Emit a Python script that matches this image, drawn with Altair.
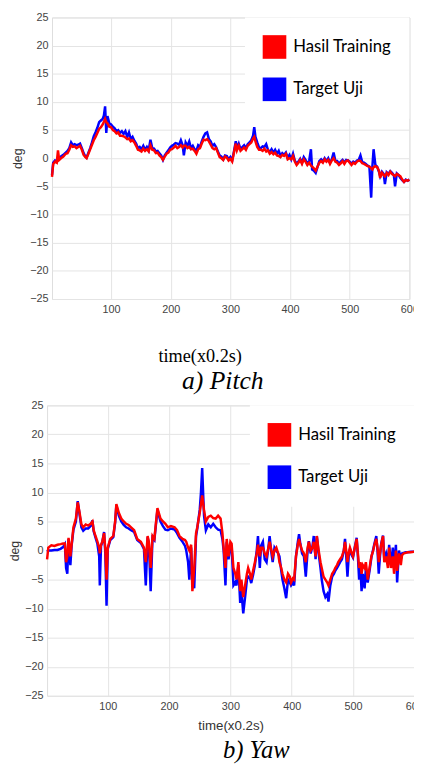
import altair as alt
import pandas as pd

# ---------------- data ----------------
series_names = ["Hasil Training", "Target Uji"]
series_colors = ["#ff0000", "#0000ff"]
x_ticks = [100, 200, 300, 400, 500, 600]
y_ticks = [-25, -20, -15, -10, -5, 0, 5, 10, 15, 20, 25]

pitch_t = [1, 3, 6, 9, 11, 13, 16, 20, 24, 27, 30, 33, 36, 39, 42, 45, 48, 51, 54, 57,
           59, 62, 65, 68, 71, 74, 77, 80, 83, 86, 88, 90, 92, 94, 97, 100, 103, 106, 109, 112,
           115, 118, 121, 124, 127, 130, 133, 136, 139, 142, 145, 148, 151, 154, 157, 160, 163, 166, 169, 172,
           175, 178, 181, 184, 187, 190, 193, 196, 199, 202, 205, 208, 211, 214, 217, 220, 222, 225, 228, 231,
           234, 237, 240, 243, 246, 249, 252, 255, 258, 261, 264, 267, 270, 273, 276, 279, 282, 285, 288, 291,
           294, 297, 300, 303, 306, 309, 311, 314, 317, 320, 323, 326, 329, 332, 335, 338, 340, 342, 345, 348,
           351, 354, 357, 360, 363, 366, 369, 372, 375, 378, 381, 384, 387, 390, 393, 396, 399, 402, 405, 408,
           411, 414, 417, 420, 423, 426, 429, 432, 435, 437, 440, 443, 446, 449, 452, 455, 458, 461, 464, 467,
           470, 473, 476, 479, 482, 485, 488, 491, 494, 497, 500, 503, 506, 509, 512, 515, 518, 521, 524, 527,
           530, 533, 536, 538, 540, 543, 546, 549, 551, 554, 557, 559, 562, 565, 568, 571, 574, 576, 579, 582,
           585, 588, 591, 594, 597, 600]
pitch_train = [-3.3, -1.0, -0.6, -0.8, 1.4, -0.3, 0.0, 0.3, 0.8, 0.9, 1.5, 2.3, 2.0, 2.1, 1.8, 2.0, 2.2, 1.5, 0.6, 0.2,
               0.0, 0.8, 1.6, 2.4, 3.2, 3.8, 4.5, 5.2, 5.5, 6.0, 6.5, 7.0, 6.4, 6.2, 5.6, 5.5, 5.0, 4.8, 4.4, 4.6,
               4.0, 4.0, 3.9, 3.7, 3.4, 3.5, 3.0, 3.2, 2.8, 2.2, 1.5, 1.4, 1.2, 1.7, 1.3, 1.6, 1.2, 2.3, 1.5, 1.4,
               0.9, 1.0, 0.5, 0.2, -0.3, 0.3, 0.8, 1.0, 1.5, 1.6, 1.9, 2.2, 1.8, 2.0, 2.3, 1.9, 2.2, 2.2, 1.8, 2.0,
               1.6, 1.7, 1.3, 0.8, 1.6, 1.8, 2.6, 3.3, 3.2, 3.4, 3.0, 2.4, 1.8, 1.6, 1.8, 1.0, 0.2, 0.0, -0.3, 0.3,
               0.1, -0.4, -0.1, -0.6, 1.0, 2.6, 1.4, 2.2, 1.3, 1.6, 1.9, 1.5, 2.2, 2.5, 2.8, 3.5, 3.8, 3.0, 2.0, 1.5,
               1.5, 1.3, 1.7, 1.2, 1.4, 0.8, 1.1, 0.7, 1.0, 0.5, 0.4, 0.2, 0.6, 0.4, 0.8, -0.2, 0.0, -0.2, 0.4, -0.6,
               -1.2, -0.8, -0.3, -1.0, -0.2, -0.6, -1.2, -0.8, -1.3, -1.5, -1.8, -2.2, -1.5, -0.8, -0.5, -0.8, -0.2, -0.6, -0.3, -1.0,
               -0.4, 0.0, -0.6, -0.8, -1.2, -0.9, -0.5, -1.0, -0.5, -0.4, -0.8, -1.2, -0.8, -1.0, -0.6, -0.4, -0.5, -0.9, -1.0, -1.2,
               -1.4, -1.5, -1.8, -2.0, -1.6, -1.4, -1.6, -2.2, -3.5, -2.6, -3.0, -3.2, -2.6, -3.0, -2.4, -2.8, -3.0, -3.2, -2.8, -3.0,
               -3.2, -3.8, -4.2, -3.9, -4.0, -3.8]
pitch_target = [-3.0, -0.8, -0.4, -0.5, 0.2, 0.0, 0.3, 0.6, 1.0, 1.3, 1.8, 2.8, 2.3, 2.5, 2.3, 2.4, 2.6, 1.8, 0.9, 0.3,
                0.1, 1.0, 1.8, 2.8, 3.9, 4.6, 5.4, 6.4, 6.7, 7.0, 7.6, 9.2, 4.5, 7.5, 6.2, 6.0, 5.6, 5.3, 4.8, 5.0,
                4.5, 4.8, 4.3, 4.8, 3.8, 4.6, 3.4, 3.8, 3.1, 2.6, 1.8, 2.0, 1.6, 2.2, 1.5, 2.0, 1.4, 3.3, 1.8, 1.7,
                1.2, 1.3, 0.9, 0.5, -0.3, 0.5, 1.0, 1.4, 1.9, 2.2, 2.4, 2.7, 2.6, 2.4, 3.2, 2.3, 0.5, 2.8, 2.2, 3.0,
                1.8, 2.2, 1.6, 1.3, 2.3, 2.0, 3.0, 3.8, 4.4, 4.6, 3.4, 3.0, 2.2, 2.5, 2.0, 1.2, 0.5, 0.3, -0.2, 0.5,
                0.4, -0.2, 0.2, -0.4, 1.2, 3.0, 1.8, 2.6, 1.6, 2.0, 2.3, 1.8, 2.5, 2.8, 3.2, 4.0, 5.5, 3.8, 2.8, 1.9,
                1.8, 2.1, 2.0, 2.5, 1.5, 1.1, 1.6, 1.0, 1.5, 0.8, 1.3, 0.4, 0.9, 0.6, 1.0, 0.1, 0.6, -0.2, 0.8, -0.4,
                -1.0, -0.6, -0.1, -0.8, 0.2, -0.3, -1.0, -0.5, 1.6, -2.0, -2.2, -2.6, -1.6, -0.5, -0.2, -0.6, 0.0, -0.5, 0.0, -0.8,
                -0.2, 1.0, -0.5, -0.5, -1.0, -0.6, -0.3, -0.8, -0.3, -0.4, -0.6, -1.0, -0.6, -0.8, -0.4, -0.3, 0.5, -0.7, -0.8, -1.0,
                -1.3, -1.5, -7.0, -1.5, 1.6, -1.2, -1.5, -2.4, -3.2, -2.4, -2.8, -4.6, -2.5, -2.8, -2.3, -2.6, -3.0, -5.0, -2.7, -3.0,
                -3.5, -3.9, -4.2, -3.8, -4.0, -3.8]

yaw_t = [1, 3, 8, 13, 18, 23, 27, 30, 32, 34, 36, 39, 41, 44, 48, 51, 54, 57, 60, 64,
         68, 72, 75, 77, 80, 83, 86, 87, 89, 91, 94, 96, 98, 100, 104, 109, 112, 114, 118, 122,
         126, 130, 134, 138, 143, 148, 154, 159, 162, 165, 167, 170, 173, 176, 181, 186, 190, 194, 198, 203,
         209, 213, 217, 222, 226, 228, 231, 233, 236, 238, 241, 244, 246, 250, 252, 254, 257, 260, 264, 268,
         272, 276, 280, 284, 287, 289, 292, 294, 297, 300, 302, 305, 308, 310, 313, 316, 318, 321, 324, 327,
         329, 332, 334, 337, 340, 343, 345, 348, 350, 353, 356, 359, 362, 364, 367, 369, 372, 375, 378, 380,
         383, 385, 388, 391, 394, 397, 399, 402, 404, 407, 410, 412, 414, 417, 420, 423, 426, 428, 431, 434,
         436, 439, 441, 444, 447, 449, 452, 455, 458, 460, 463, 466, 469, 471, 474, 476, 479, 482, 485, 487,
         489, 491, 493, 495, 498, 500, 503, 506, 508, 510, 512, 514, 516, 519, 521, 524, 527, 530, 533, 535,
         538, 540, 542, 544, 546, 549, 551, 554, 557, 559, 562, 565, 567, 570, 572, 575, 578, 580, 583, 586,
         589, 594, 600]
yaw_train = [-1.5, 0.5, 0.9, 0.8, 1.0, 1.1, 1.2, 1.2, -2.0, -1.0, 2.2, -1.0, 1.0, 4.0, 5.5, 8.3, 6.5, 4.5, 4.0, 4.5,
             4.3, 4.6, 5.0, 3.5, 2.5, 1.6, 0.5, -0.5, 1.0, 1.5, 3.0, 0.2, -5.0, 0.5, 2.0, 2.5, 5.0, 8.0, 6.5, 5.5,
             5.0, 4.6, 4.4, 4.0, 3.5, 2.0, 1.5, 0.5, -2.0, 2.5, 1.5, -3.0, 2.5, 2.0, 7.3, 5.5, 5.0, 4.6, 4.0, 4.2,
             4.0, 3.5, 2.5, 2.0, 1.8, 1.5, 0.5, 0.0, 1.0, -7.0, -3.0, 3.0, 4.0, 6.5, 8.0, 9.5, 7.0, 5.0, 5.8, 6.0,
             5.6, 5.5, 6.0, 5.5, 3.0, 0.5, -3.0, 2.0, -1.0, 1.5, 1.2, -3.0, -4.0, -5.0, -2.0, -7.0, -5.0, -8.0, -6.0, -4.0,
             -3.0, -4.0, -5.0, -3.5, -2.0, -0.5, 1.0, -1.0, 0.5, 0.5, -0.5, -1.0, 0.5, 1.5, 0.0, -1.0, 0.0, 0.5, -0.5, -2.0,
             -3.0, -4.0, -5.0, -5.5, -4.0, -4.5, -5.5, -4.8, -5.0, -1.0, 1.0, 2.0, 1.0, 0.0, -0.5, -2.0, 0.5, 1.5, 0.0, 0.5,
             1.5, -1.0, 2.5, 0.0, -2.0, -3.0, -4.5, -5.0, -5.5, -6.0, -5.0, -4.0, -3.5, -3.0, -2.5, -2.0, -1.5, -1.0, 0.0, 1.5,
             0.0, -2.0, -0.5, 0.5, -0.5, -1.0, 0.5, 2.0, -0.5, -3.0, -2.0, -4.0, -2.5, -3.0, -2.0, -5.0, -3.0, -1.0, 0.0, 1.0,
             2.0, 0.5, -2.0, -0.5, 1.0, 2.5, -2.0, -1.0, -3.0, 0.5, -3.0, -1.0, -4.0, 0.0, -3.5, -0.5, -2.5, -0.8, -0.5, -0.4,
             -0.3, -0.3, -0.2]
yaw_target = [-0.2, 0.0, 0.0, 0.1, 0.1, 0.3, 0.6, 1.1, -3.0, -4.0, 2.0, -2.5, 0.8, 3.6, 5.0, 8.5, 6.2, 4.0, 3.4, 3.8,
              3.8, 4.2, 5.2, 3.3, 2.2, 1.2, -1.0, -6.0, 0.8, 1.4, 3.2, -0.5, -9.5, 0.3, 1.8, 2.3, 4.8, 7.8, 6.0, 5.0,
              4.4, 4.0, 3.8, 3.5, 3.2, 1.8, 1.3, 0.3, -6.0, 2.3, 1.2, -7.0, 2.2, 1.8, 7.0, 5.0, 4.2, 3.6, 3.5, 3.8,
              3.6, 3.0, 2.2, 1.5, 0.8, 0.0, -2.0, -5.0, 0.5, -5.0, -6.5, 2.5, 3.8, 7.0, 10.0, 14.2, 6.0, 3.5, 4.5, 4.0,
              4.6, 4.0, 3.6, 3.5, 2.0, 0.0, -6.0, 1.5, -1.5, 1.0, 0.8, -6.0, -5.5, -6.0, -2.5, -9.0, -7.0, -10.8, -8.0, -5.0,
              -4.5, -4.8, -5.6, -4.2, -2.5, 0.0, 2.5, -3.0, 0.8, 1.5, -1.5, -2.0, 0.5, 2.5, -0.5, -2.0, 0.5, 0.0, -0.5, -1.0,
              -3.5, -5.0, -6.5, -8.2, -5.0, -5.5, -6.0, -5.5, -6.0, -1.0, 1.5, 2.8, 1.2, -0.5, -1.0, -4.5, 0.0, 1.6, -0.5, 0.8,
              2.5, -1.5, 2.5, -0.5, -3.0, -5.0, -7.0, -8.0, -7.5, -8.8, -6.0, -4.5, -4.0, -3.5, -3.0, -2.6, -2.0, -1.5, 0.0, 2.0,
              -1.0, -4.5, -1.0, 0.3, -0.8, -1.2, 0.6, 2.2, -1.0, -5.0, -3.0, -7.0, -4.0, -6.5, -3.0, -5.5, -3.5, -1.2, 0.2, 1.2,
              2.5, 0.0, -4.0, -1.0, 1.2, 2.6, -1.5, -0.5, -2.0, 1.0, -2.5, 0.5, -3.0, 1.0, -5.5, 0.0, -1.5, -0.5, -0.4, -0.3,
              -0.3, -0.2, -0.2]


def make_df(t, train, target):
    rows = []
    for ti, v in zip(t, train):
        rows.append({"t": ti, "deg": v, "series": series_names[0]})
    for ti, v in zip(t, target):
        rows.append({"t": ti, "deg": v, "series": series_names[1]})
    return pd.DataFrame(rows)


fill_scale = alt.Scale(domain=series_names, range=series_colors)
stroke_scale = alt.Scale(domain=series_names[::-1], range=series_colors[::-1])


def panel(df, w, h, xaxis, yaxis, title):
    legend = alt.Legend(
        title=None, orient="top-right", offset=0, fillColor="white",
        padding=18, symbolType="square", symbolSize=576, symbolStrokeWidth=0,
        symbolOpacity=1, labelFont="Lato", labelFontSize=17, labelColor="black",
        labelOffset=7, rowPadding=19,
    )
    x = alt.X("t:Q", scale=alt.Scale(domain=[1, 600], nice=False, zero=False), axis=xaxis)
    y = alt.Y("deg:Q", scale=alt.Scale(domain=[-25, 25], nice=False), axis=yaxis)
    stroke = alt.Stroke("series:N", scale=stroke_scale, legend=None)
    blue = alt.Chart(df).transform_filter(alt.datum.series == series_names[1]).mark_line(
        strokeWidth=2.5).encode(x=x, y=y, stroke=stroke, order="t:Q")
    red = alt.Chart(df).transform_filter(alt.datum.series == series_names[0]).mark_line(
        strokeWidth=2.5).encode(x=x, y=y, stroke=stroke, order="t:Q")
    keys = alt.Chart(df).mark_square(opacity=0, size=1).encode(
        x=x, y=y, fill=alt.Fill("series:N", scale=fill_scale, legend=legend))
    return alt.layer(blue, red, keys).properties(width=w, height=h, title=title)


common_axis = dict(domain=False, ticks=False, grid=True, gridColor="#e4e4e4",
                   labelFont="Liberation Sans", labelFontSize=11, labelColor="#444")

top_x = alt.Axis(values=x_ticks, title="time(x0.2s)", titleFont="Liberation Serif",
                 titleFontSize=18.5, titleFontWeight="normal", titleColor="black",
                 labelPadding=5, titlePadding=32.5, titleX=150, labelFlush=False,
                 **common_axis)
top_y = alt.Axis(values=y_ticks, title="deg", titleFont="Liberation Sans", titleFontSize=12.5,
                 titleFontWeight="normal", titleColor="#333", labelPadding=4, titlePadding=5,
                 **common_axis)
bot_x = alt.Axis(values=x_ticks, title="time(x0.2s)", titleFont="Liberation Sans",
                 titleFontSize=13.5, titleFontWeight="normal", titleColor="#333",
                 labelPadding=4.5, titlePadding=7.5, labelFlush=False, **common_axis)
bot_y = alt.Axis(values=y_ticks, title="deg", titleFont="Liberation Sans", titleFontSize=12.5,
                 titleFontWeight="normal", titleColor="#333", labelPadding=4, titlePadding=3,
                 **common_axis)

top_title = alt.TitleParams("a) Pitch", orient="bottom", anchor="middle", dx=-8, offset=3,
                            font="Liberation Serif", fontSize=26, fontStyle="italic",
                            fontWeight="normal", color="black")
bot_title = alt.TitleParams("b) Yaw", orient="bottom", anchor="middle", dx=26, offset=7,
                            font="Liberation Serif", fontSize=25, fontStyle="italic",
                            fontWeight="normal", color="black")

top = panel(make_df(pitch_t, pitch_train, pitch_target), 363, 286, top_x, top_y, top_title)
bot = panel(make_df(yaw_t, yaw_train, yaw_target), 373, 295, bot_x, bot_y, bot_title)

chart = alt.vconcat(top, bot, spacing=108, bounds="flush", center=True).resolve_scale(
    fill="independent", stroke="independent").resolve_legend(fill="independent").properties(
    padding={"top": -3.4, "left": -0.3, "right": -10.3, "bottom": 0}
).configure_view(stroke="#3a3a3a", strokeWidth=1).configure(background="white")

chart.save("out.html", embed_options={"renderer": "svg", "actions": False})
